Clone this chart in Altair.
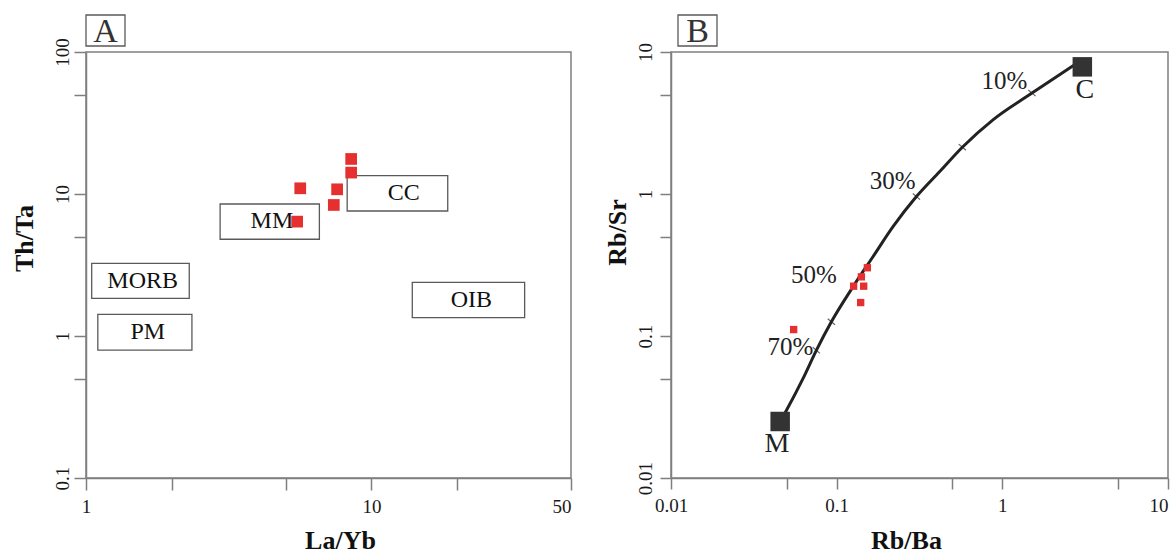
import altair as alt
import pandas as pd

SERIF = "Liberation Serif"

# ---------------- Panel A : Th/Ta vs La/Yb ----------------
a_sample_x = [8.49, 8.49, 5.63, 7.58, 7.38, 5.49]
a_sample_y = [17.65, 14.15, 10.97, 10.79, 8.37, 6.39]

field_names = ["CC", "MM", "OIB", "MORB", "PM"]
field_x1 = [8.22, 2.95, 13.9, 1.047, 1.10]
field_x2 = [18.5, 6.57, 34.4, 2.30, 2.35]
field_y1 = [7.59, 4.80, 1.346, 1.841, 0.796]
field_y2 = [13.48, 8.50, 2.387, 3.248, 1.420]
field_label_x = [12.98, 4.48, 22.4, 1.58, 1.646]
field_label_y = [10.1, 6.45, 1.79, 2.45, 1.06]

a_x_ticks = [1, 2, 5, 10, 20, 50]
a_y_ticks = [0.1, 0.5, 1, 5, 10, 50, 100]

# ---------------- Panel B : Rb/Sr vs Rb/Ba ----------------
curve_x = [0.0456, 0.0497, 0.0626, 0.0754, 0.0929, 0.1254, 0.1656, 0.2188,
           0.303, 0.419, 0.5735, 0.878, 1.51, 2.55, 2.77]
curve_y = [0.025, 0.0299, 0.0501, 0.0793, 0.126, 0.222, 0.3616, 0.5886,
           0.959, 1.44, 2.136, 3.33, 5.136, 7.71, 8.23]
tick_x = [0.0754, 0.0929, 0.303, 0.5735, 1.51]
tick_y = [0.0793, 0.126, 0.959, 2.136, 5.136]
pct_labels = ["10%", "30%", "50%", "70%"]
pct_x = [1.03, 0.218, 0.0728, 0.0526]
pct_y = [6.29, 1.239, 0.268, 0.0842]
end_names = ["M", "C"]
end_x = [0.0456, 3.04]
end_y = [0.025, 7.86]
end_label_x = [0.0436, 3.15]
end_label_y = [0.0174, 5.42]
b_sample_x = [0.1532, 0.141, 0.1266, 0.1456, 0.1396, 0.055]
b_sample_y = [0.3024, 0.261, 0.2243, 0.2243, 0.172, 0.111]

b_x_ticks = [0.01, 0.05, 0.1, 0.5, 1, 5, 10]
b_y_ticks = [0.01, 0.05, 0.1, 0.5, 1, 5, 10]

# ---------------- tables ----------------
a_samples = pd.DataFrame({"x": a_sample_x, "y": a_sample_y})
a_fields = pd.DataFrame({"name": field_names, "x1": field_x1, "x2": field_x2,
                         "y1": field_y1, "y2": field_y2,
                         "lx": field_label_x, "ly": field_label_y})
b_curve = pd.DataFrame({"i": list(range(len(curve_x))), "x": curve_x, "y": curve_y})
b_ticks = pd.DataFrame({"x": tick_x, "y": tick_y})
b_pct = pd.DataFrame({"t": pct_labels, "x": pct_x, "y": pct_y})
b_ends = pd.DataFrame({"t": end_names, "x": end_x, "y": end_y,
                       "lx": end_label_x, "ly": end_label_y})
b_samples = pd.DataFrame({"x": b_sample_x, "y": b_sample_y})


def hide_expr(hidden):
    cond = " || ".join(f"datum.value == {h}" for h in hidden)
    return f"({cond}) ? '' : datum.label"


def x_axis(values, hidden, title, last, title_x, tick_size):
    return alt.Axis(values=values, format="~g", labelExpr=hide_expr(hidden),
                    labelAlign={"condition": {"test": f"datum.value >= {last}", "value": "right"},
                                "value": "center"},
                    labelPadding=7, tickSize=tick_size,
                    title=title, titleX=title_x, titleY=70,
                    titleAlign="center", titleBaseline="alphabetic")


def y_axis(values, hidden, title, title_x, title_y, pad, tick_size):
    return alt.Axis(values=values, format="~g", labelExpr=hide_expr(hidden),
                    labelAngle=270, labelAlign="center", labelBaseline="bottom",
                    labelPadding=pad, tickSize=tick_size,
                    title=title, titleAngle=270, titleX=title_x, titleY=title_y,
                    titleAlign="center", titleBaseline="middle")


H = 426

# ---------------- Panel A chart ----------------
a_boxes = alt.Chart(a_fields).mark_rect(fill="white", stroke="#5a5a5a", strokeWidth=1.3).encode(
    x=alt.X("x1:Q", scale=alt.Scale(type="log", domain=[1, 50], nice=False),
            axis=x_axis(a_x_ticks, [2, 5, 20], "La/Yb", 50, 254, 12)),
    x2="x2:Q",
    y=alt.Y("y1:Q", scale=alt.Scale(type="log", domain=[0.1, 100], nice=False),
            axis=y_axis(a_y_ticks, [0.5, 5, 50], "Th/Ta", -62, 186, 2, 12)),
    y2="y2:Q",
)
a_box_text = alt.Chart(a_fields).mark_text(font=SERIF, fontSize=24, color="#111111",
                                           align="center", baseline="middle").encode(
    x="lx:Q", y="ly:Q", text="name:N")
a_pts = alt.Chart(a_samples).mark_square(color="#e5302f", size=137, opacity=1).encode(
    x="x:Q", y="y:Q")

tag_a = pd.DataFrame({"tag": ["A"]})
a_tag_box = alt.Chart(tag_a).mark_rect(fill="white", stroke="#5a5a5a", strokeWidth=1.3).encode(
    x=alt.value(0), x2=alt.value(39), y=alt.value(-37), y2=alt.value(-6))
a_tag_text = alt.Chart(tag_a).mark_text(font=SERIF, fontSize=34, color="#333333",
                                        align="center", baseline="middle").encode(
    x=alt.value(19.5), y=alt.value(-20), text="tag:N")

panel_a = alt.layer(a_boxes, a_box_text, a_pts, a_tag_box, a_tag_text).properties(
    width=485, height=H)

# ---------------- Panel B chart ----------------
bx = alt.X("x:Q", scale=alt.Scale(type="log", domain=[0.01, 10], nice=False),
           axis=x_axis(b_x_ticks, [0.05, 0.5, 5], "Rb/Ba", 10, 235, 11))
by = alt.Y("y:Q", scale=alt.Scale(type="log", domain=[0.01, 10], nice=False),
           axis=y_axis(b_y_ticks, [0.05, 0.5, 5], "Rb/Sr", -54, 180, 5, 11))

b_line = alt.Chart(b_curve).mark_line(color="#222222", strokeWidth=3,
                                      interpolate="monotone").encode(
    x=bx, y=by, order="i:Q")
b_tick = alt.Chart(b_ticks).mark_point(shape="stroke", size=90, angle=40,
                                       color="#222222", strokeWidth=1.2).encode(
    x="x:Q", y="y:Q")
b_end = alt.Chart(b_ends).mark_square(color="#333333", size=380, opacity=1).encode(
    x="x:Q", y="y:Q")
b_end_text = alt.Chart(b_ends).mark_text(font=SERIF, fontSize=28, color="#222222",
                                         align="center", baseline="middle").encode(
    x="lx:Q", y="ly:Q", text="t:N")
b_pct_text = alt.Chart(b_pct).mark_text(font=SERIF, fontSize=25, color="#222222",
                                        align="center", baseline="middle").encode(
    x="x:Q", y="y:Q", text="t:N")
b_pts = alt.Chart(b_samples).mark_square(color="#e5302f", size=54, opacity=1).encode(
    x="x:Q", y="y:Q")

tag_b = pd.DataFrame({"tag": ["B"]})
b_tag_box = alt.Chart(tag_b).mark_rect(fill="white", stroke="#5a5a5a", strokeWidth=1.3).encode(
    x=alt.value(7), x2=alt.value(46), y=alt.value(-37), y2=alt.value(-6))
b_tag_text = alt.Chart(tag_b).mark_text(font=SERIF, fontSize=34, color="#333333",
                                        align="center", baseline="middle").encode(
    x=alt.value(26.5), y=alt.value(-20), text="tag:N")

panel_b = alt.layer(b_line, b_tick, b_pts, b_end, b_end_text, b_pct_text,
                    b_tag_box, b_tag_text).properties(width=497, height=H)

chart = alt.hconcat(panel_a, panel_b, spacing=30).properties(
    padding={"left": 10, "top": 13, "right": 0, "bottom": 0},
    background="white",
).configure_view(
    stroke="#7f7f7f", strokeWidth=1.5
).configure_axis(
    grid=False, domainColor="#7f7f7f", domainWidth=1.5,
    tickColor="#7f7f7f", tickWidth=1.5,
    labelFont=SERIF, labelFontSize=19, labelColor="#1a1a1a",
    titleFont=SERIF, titleFontSize=26, titleFontWeight="bold", titleColor="#111111",
)

chart.save("out.html", embed_options={"renderer": "svg", "actions": False})
